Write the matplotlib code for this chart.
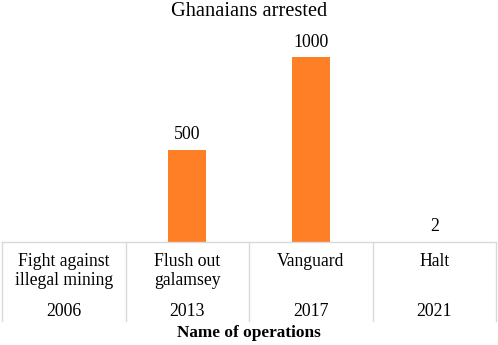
import matplotlib
matplotlib.use("Agg")
import matplotlib.pyplot as plt
import numpy as np

operations = ["Fight against\nillegal mining", "Flush out\ngalamsey", "Vanguard", "Halt"]
years = ["2006", "2013", "2017", "2021"]
arrested = [np.nan, 500, 1000, 2]
value_labels = ["", "500", "1000", "2"]

plt.rcParams['font.family'] = ['Liberation Serif', 'DejaVu Serif']

W, H = 498, 345
fig = plt.figure(figsize=(W/100, H/100), dpi=100)
left, right, base, top = 2, 496, 242, 30
ax = fig.add_axes([left/W, 1-base/H, (right-left)/W, (base-top)/H])

x = np.arange(len(operations))
bars = ax.bar(x, np.nan_to_num(arrested), width=0.31, color="#FF7F27", zorder=3)
ax.set_xlim(-0.5, len(operations)-0.5)
ax.set_ylim(0, 1146)
for xi, v, lab in zip(x, np.nan_to_num(arrested), value_labels):
    if lab:
        ax.annotate(lab, (xi, v), xytext=(0, 4.5), textcoords="offset points",
                    ha="center", va="bottom", fontsize=12.8)

for s in ax.spines.values():
    s.set_visible(False)
ax.set_xticks([])
ax.set_yticks([])

trans = ax.get_xaxis_transform()
gc = "#d9d9d9"
axh = base - top
ax.plot([-0.5, len(operations)-0.5], [0, 0], color=gc, lw=1, transform=trans, clip_on=False, zorder=4)
for b in np.arange(-0.5, len(operations), 1.0):
    ax.plot([b, b], [0, -(321-base)/axh], color=gc, lw=1, transform=trans, clip_on=False)

for xi, op, yr in zip(x, operations, years):
    ax.text(xi, -(253-base)/axh, op, transform=trans, ha="center", va="top",
            fontsize=12.7, linespacing=1.15)
    ax.text(xi, -(311-base)/axh, yr, transform=trans, ha="center", va="center", fontsize=12.8)

fig.text(0.5, 1-333/H, "Name of operations", ha="center", va="center",
         fontsize=12.4, fontweight="bold")
fig.text(0.5, 1-11/H, "Ghanaians arrested", ha="center", va="center", fontsize=14.7)

fig.savefig("out.png", dpi=100)
